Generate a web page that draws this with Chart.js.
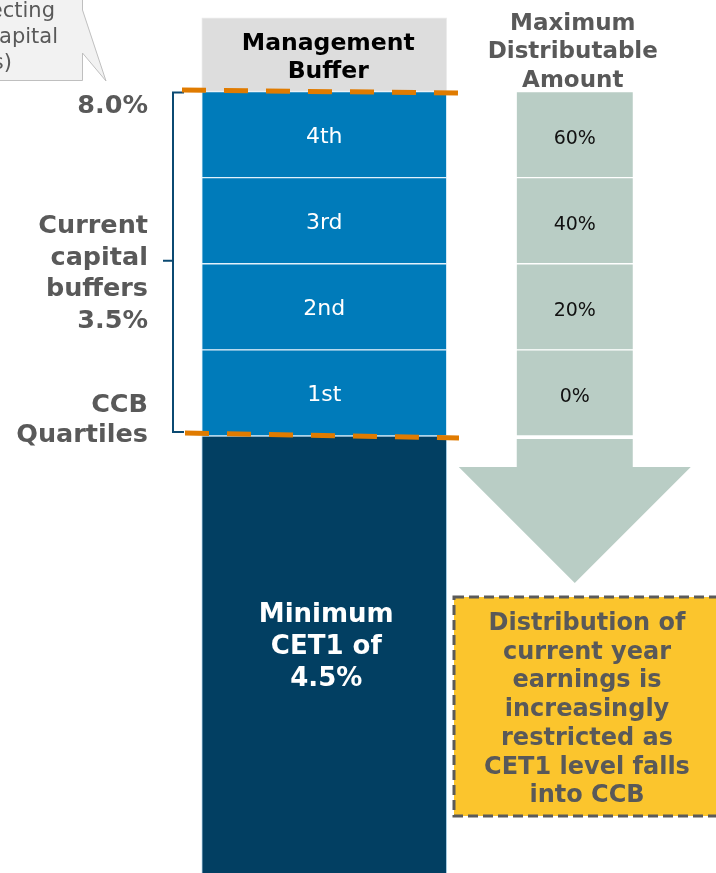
<!DOCTYPE html>
<html><head><meta charset="utf-8">
<script src="https://cdn.jsdelivr.net/npm/chart.js@4/dist/chart.umd.min.js"></script>
<style>html,body{margin:0;padding:0;background:#fff;overflow:hidden}canvas{display:block}</style>
</head><body><canvas id="c" width="716" height="873"></canvas>
<script>
// ---- data ----
const categories = ['Management Buffer', 'Maximum Distributable Amount'];
const minimumCET1 = 4.5;                      // % CET1
const ccbQuartiles = ['1st', '2nd', '3rd', '4th'];
const ccbQuartileSizes = [0.875, 0.875, 0.875, 0.875]; // 3.5% split in 4
const managementBuffer = 0.75;
const mdaPayouts = ['0%', '20%', '40%', '60%'];
const totalLevel = 8.0;
const currentBuffers = 3.5;
const levelLabels = ['8.0%'];
const leftLabels = ['Current', 'capital', 'buffers', '3.5%'];
const quartileTitle = ['CCB', 'Quartiles'];
const cetLabel = ['Minimum', 'CET1 of', '4.5%'];
const mgmtTitle = ['Management', 'Buffer'];
const mdaTitle = ['Maximum', 'Distributable', 'Amount'];
const noteLines = ['Distribution of', 'current year', 'earnings is', 'increasingly', 'restricted as', 'CET1 level falls', 'into CCB'];
const calloutLines = ['(Reflecting', 'capital', 'ratios)'];

const FONT = '"DejaVu Sans", Verdana, sans-serif';
const LEFT_W = 245, RIGHT_W = 116;

// ---- datasets built from the arrays ----
const datasets = [];
datasets.push({label: 'Minimum CET1', data: [[0, minimumCET1], null], backgroundColor: '#023f62',
  borderColor: 'rgba(150,195,225,0.7)', borderWidth: 1, borderSkipped: false, barThickness: LEFT_W, grouped: false});
let lo = minimumCET1;
ccbQuartiles.forEach((q, i) => {
  const hi = lo + ccbQuartileSizes[i];
  datasets.push({label: q, data: [[lo, hi], null], backgroundColor: '#007bba',
    borderColor: 'rgba(225,240,250,0.85)', borderWidth: 1, borderSkipped: false, barThickness: LEFT_W, grouped: false});
  lo = hi;
});
datasets.push({label: 'Management Buffer', data: [[lo, lo + managementBuffer], null], backgroundColor: '#dddddd',
  borderColor: '#ececec', borderWidth: 1, borderSkipped: false, barThickness: LEFT_W, grouped: false});
lo = minimumCET1;
mdaPayouts.forEach((p, i) => {
  const hi = lo + ccbQuartileSizes[i];
  datasets.push({label: 'MDA ' + p, data: [null, [lo, hi]], backgroundColor: '#b9cdc5',
    borderColor: '#ffffff', borderWidth: {top: 1, bottom: 1, left: 0, right: 0}, borderSkipped: false,
    barThickness: RIGHT_W, grouped: false});
  lo = hi;
});

function txt(ctx, s, x, y, font, color, align) {
  ctx.font = font; ctx.fillStyle = color; ctx.textAlign = align || 'center'; ctx.textBaseline = 'alphabetic';
  ctx.fillText(s, x, y);
}

const annot = {
  id: 'annot',
  afterDraw(chart) {
    const ctx = chart.ctx, ys = chart.scales.y;
    const yTop = ys.getPixelForValue(totalLevel);
    const yMin = ys.getPixelForValue(minimumCET1);
    const nQ = ccbQuartiles.length;
    ctx.save();

    // labels inside quartile bars
    for (let i = 0; i < nQ; i++) {
      const el = chart.getDatasetMeta(1 + i).data[0];
      txt(ctx, ccbQuartiles[i], el.x, (el.y + el.base) / 2 + 8, '22px ' + FONT, '#ffffff');
    }
    // MDA bars labels
    let rightBar = null;
    for (let i = 0; i < mdaPayouts.length; i++) {
      const el = chart.getDatasetMeta(2 + nQ + i).data[1];
      if (i === 0) rightBar = el;
      txt(ctx, mdaPayouts[i], el.x, (el.y + el.base) / 2 + 9, '19px ' + FONT, '#111111');
    }
    // minimum CET1 text
    const cet = chart.getDatasetMeta(0).data[0];
    cetLabel.forEach((s, i) => txt(ctx, s, cet.x + 2, 622 + i * 32, 'bold 26px ' + FONT, '#ffffff'));
    // management header
    const mg = chart.getDatasetMeta(1 + nQ).data[0];
    mgmtTitle.forEach((s, i) => txt(ctx, s, mg.x + 4, mg.y + 32 + i * 28, 'bold 23.5px ' + FONT, '#000000'));
    // MDA header
    const topMda = chart.getDatasetMeta(2 + nQ + mdaPayouts.length - 1).data[1];
    mdaTitle.forEach((s, i) => txt(ctx, s, topMda.x - 2, topMda.y - 62 + i * 28.5, 'bold 23px ' + FONT, '#595959'));

    // arrow below MDA column
    const half = rightBar.width / 2, cx = rightBar.x;
    ctx.fillStyle = '#b9cdc5';
    ctx.beginPath();
    ctx.moveTo(cx - half, yMin + 3);
    ctx.lineTo(cx + half, yMin + 3);
    ctx.lineTo(cx + half, yMin + 31);
    ctx.lineTo(cx + half * 2, yMin + 31);
    ctx.lineTo(cx, yMin + 147);
    ctx.lineTo(cx - half * 2, yMin + 31);
    ctx.lineTo(cx - half, yMin + 31);
    ctx.closePath(); ctx.fill();

    // bracket
    ctx.strokeStyle = '#0b4a72'; ctx.lineWidth = 2; ctx.setLineDash([]);
    const bx = 173, mid = (yTop + yMin) / 2 - 3;
    ctx.beginPath();
    ctx.moveTo(184, yTop + 1); ctx.lineTo(bx, yTop + 1); ctx.lineTo(bx, yMin - 4); ctx.lineTo(184, yMin - 4);
    ctx.moveTo(bx, mid); ctx.lineTo(163, mid);
    ctx.stroke();

    // orange dashed level lines
    ctx.strokeStyle = '#e07b00'; ctx.lineWidth = 5; ctx.setLineDash([24, 18]);
    ctx.beginPath(); ctx.moveTo(182, yTop - 1.5); ctx.lineTo(459, yTop + 1.5); ctx.stroke();
    ctx.beginPath(); ctx.moveTo(185, yMin - 3); ctx.lineTo(459, yMin + 2); ctx.stroke();
    ctx.setLineDash([]);

    // left labels
    const gray = '#595959', lf = 'bold 25.5px ' + FONT;
    txt(ctx, levelLabels[0], 148, yTop + 21, lf, gray, 'right');
    leftLabels.forEach((s, i) => txt(ctx, s, 148, 233 + i * 31.7, lf, gray, 'right'));
    txt(ctx, quartileTitle[0], 148, yMin - 24, lf, gray, 'right');
    txt(ctx, quartileTitle[1], 148, yMin + 6, lf, gray, 'right');

    // yellow note box
    ctx.fillStyle = '#fbc52d';
    ctx.fillRect(454, 597, 300, 219);
    ctx.strokeStyle = '#5a5a5a'; ctx.lineWidth = 3; ctx.setLineDash([10, 5]);
    ctx.strokeRect(454, 597, 300, 219);
    ctx.setLineDash([]);
    noteLines.forEach((s, i) => txt(ctx, s, 587, 630 + i * 28.7, 'bold 24px ' + FONT, gray));

    // callout bubble (top left, cut off)
    ctx.fillStyle = '#f2f2f2'; ctx.strokeStyle = '#bfbfbf'; ctx.lineWidth = 1;
    ctx.beginPath();
    ctx.moveTo(-5, -5); ctx.lineTo(82.5, -5); ctx.lineTo(82.5, 10); ctx.lineTo(106, 81);
    ctx.lineTo(82.5, 53); ctx.lineTo(82.5, 80.5); ctx.lineTo(-5, 80.5); ctx.closePath();
    ctx.fill(); ctx.stroke();
    txt(ctx, calloutLines[0], 55, 17, '21px ' + FONT, gray, 'right');
    txt(ctx, calloutLines[1], 58, 43, '21px ' + FONT, gray, 'right');
    txt(ctx, calloutLines[2], 12, 69, '21px ' + FONT, gray, 'right');

    ctx.restore();
  }
};

new Chart(document.getElementById('c'), {
  type: 'bar',
  data: {labels: categories, datasets},
  options: {
    responsive: false, animation: false, devicePixelRatio: 1,
    layout: {padding: {left: 199, right: 16, top: 0, bottom: 0}},
    plugins: {legend: {display: false}, tooltip: {enabled: false}},
    scales: {
      x: {display: false, offset: true},
      y: {display: false, min: 0.06, max: 8.93}
    }
  },
  plugins: [annot]
});
</script></body></html>
